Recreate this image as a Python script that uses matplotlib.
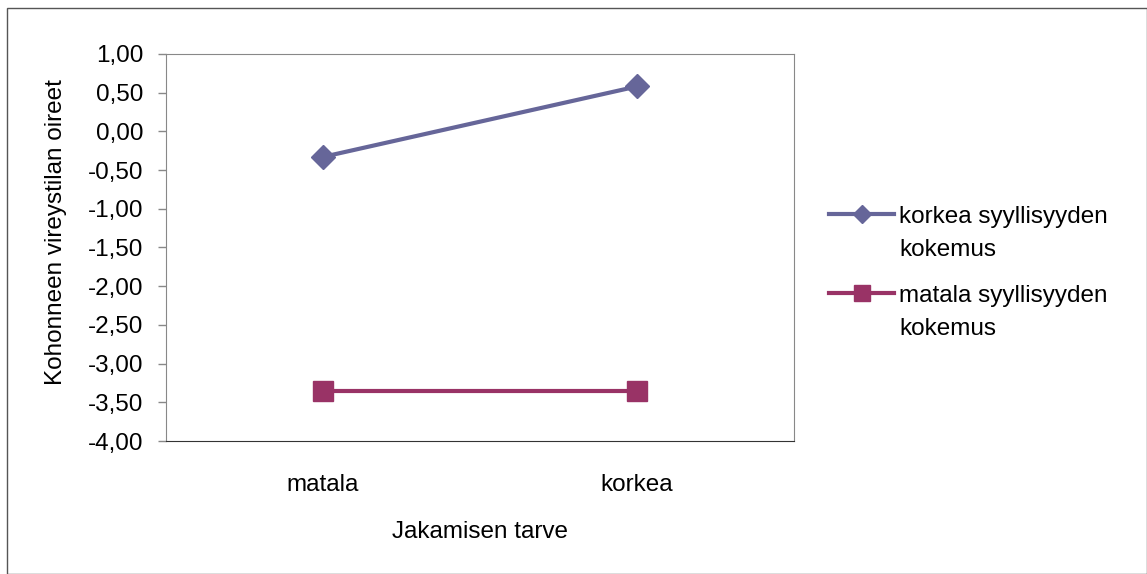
import matplotlib
matplotlib.use("Agg")
import matplotlib.pyplot as plt
from matplotlib.patches import Rectangle
from matplotlib.ticker import FuncFormatter, MultipleLocator
from matplotlib.legend_handler import HandlerLine2D

plt.rcParams['font.family'] = ['Liberation Sans', 'DejaVu Sans']

categories = ['matala', 'korkea']
korkea_syyllisyys = [-0.33, 0.58]
matala_syyllisyys = [-3.35, -3.35]
series_labels = ['korkea syyllisyyden\nkokemus', 'matala syyllisyyden\nkokemus']

FS = 17.5


# legend handle sits on the first text line, like in Excel
class FirstLineHandler(HandlerLine2D):
    def create_artists(self, legend, orig_handle, xdescent, ydescent,
                       width, height, fontsize, trans):
        arts = super().create_artists(legend, orig_handle, xdescent, ydescent,
                                      width, height, fontsize, trans)
        for a in arts:
            a.set_ydata([y + 0.78 * fontsize for y in a.get_ydata()])
        return arts


fig = plt.figure(figsize=(11.47, 5.74), dpi=100)
fig.patches.append(Rectangle((0.006, 0.0), 0.994, 0.986, transform=fig.transFigure,
                             fill=False, edgecolor='#555555', lw=1.0))

ax = fig.add_axes([0.1447, 0.2317, 0.5475, 0.6743])
x = range(len(categories))
ax.plot(x, korkea_syyllisyys, color='#666699', lw=3, marker='D', ms=12,
        label=series_labels[0])
ax.plot(x, matala_syyllisyys, color='#993366', lw=3, marker='s', ms=15,
        label=series_labels[1])

ax.set_xlim(-0.5, 1.5)
ax.set_ylim(-4, 1)
ax.yaxis.set_major_locator(MultipleLocator(0.5))
ax.yaxis.set_major_formatter(FuncFormatter(lambda v, p: f"{v:.2f}".replace('.', ',')))
ax.set_xticks(list(x))
ax.set_xticklabels(categories)
ax.tick_params(axis='x', length=0, pad=24, labelsize=FS)
ax.tick_params(axis='y', length=5.8, width=1, color='#888888', labelsize=FS, pad=10.5)
for side in ['left', 'right', 'top', 'bottom']:
    ax.spines[side].set_color('#888888')
ax.spines['bottom'].set_color('#333333')

ax.set_xlabel('Jakamisen tarve', fontsize=FS, labelpad=18)
ax.set_ylabel('Kohonneen vireystilan oireet', fontsize=FS)
ax.yaxis.set_label_coords(-0.157, 0.54)

leg = fig.legend(loc='upper left', bbox_to_anchor=(0.704, 0.679), frameon=False,
                 fontsize=FS, markerscale=0.75, handlelength=2.67, handletextpad=0.2,
                 labelspacing=1.0, handler_map={plt.Line2D: FirstLineHandler()})
for t in leg.get_texts():
    t.set_linespacing(1.62)

fig.savefig('out.png', dpi=100)
